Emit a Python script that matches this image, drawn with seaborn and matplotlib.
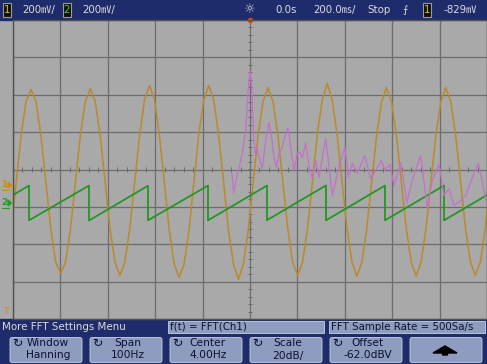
import numpy as np
import pandas as pd
import matplotlib
matplotlib.use("Agg")
import matplotlib.pyplot as plt
import seaborn as sns
from matplotlib.patches import Rectangle, FancyBboxPatch, FancyArrow, Polygon

# ---------------- data read from the screen ----------------
# Channel 1 (sine), volts, sampled every 1/12 of its 250 ms period
CH1_T0 = -1.00733          # s, time of first sample
CH1_DT = 0.0208333         # s, sample interval
ch1_volts = [
    -0.23, 0.02, 0.27, 0.45,
    0.514, 0.45, 0.27, 0.02, -0.23, -0.41, -0.470, -0.41, -0.23, 0.02, 0.27, 0.45,
    0.519, 0.45, 0.27, 0.02, -0.23, -0.41, -0.481, -0.41, -0.23, 0.02, 0.27, 0.46,
    0.535, 0.46, 0.27, 0.02, -0.24, -0.42, -0.492, -0.42, -0.24, 0.02, 0.28, 0.46,
    0.535, 0.46, 0.27, 0.02, -0.24, -0.42, -0.502, -0.42, -0.24, 0.02, 0.27, 0.45,
    0.524, 0.45, 0.27, 0.02, -0.23, -0.41, -0.480, -0.41, -0.23, 0.02, 0.28, 0.46,
    0.546, 0.46, 0.27, 0.02, -0.23, -0.41, -0.485, -0.41, -0.23, 0.02, 0.27, 0.45,
    0.524, 0.45, 0.27, 0.02, -0.23, -0.41, -0.485, -0.41, -0.23, 0.02, 0.27, 0.45,
    0.524, 0.45, 0.27, 0.02, -0.23, -0.41, -0.480, -0.41, -0.23, 0.02, 0.27, 0.45,
]
# Channel 2 (sawtooth): times of the falling edges and levels
ch2_drop_s = [-1.181, -0.9325, -0.6793, -0.4304, -0.1772, 0.0717, 0.3207, 0.5696, 0.8186, 1.068]
ch2_top_v = [0.095, 0.096, 0.096, 0.095, 0.096, 0.096, 0.097, 0.096, 0.096, 0.096]
ch2_bottom_v = [-0.090, -0.090, -0.091, -0.090, -0.090, -0.089, -0.090, -0.090, -0.090, -0.090]
# FFT of channel 1: frequency (Hz) and magnitude (dBV)
fft_hz = [0.20, 0.56, 1.05, 1.47, 1.68, 2.38, 3.09, 3.64, 4.00, 4.36, 4.70, 5.05, 5.41, 5.90,
          6.59, 7.31, 8.01, 8.58, 9.06, 9.55, 10.12, 10.81, 11.32, 12.02, 12.59, 13.28, 13.98,
          14.49, 15.03, 15.75, 16.60, 17.14, 17.86, 18.56, 19.97, 21.36, 22.08, 22.92, 24.04,
          24.74, 25.58, 26.64, 28.20, 29.46, 30.52, 31.70, 32.48, 33.47, 34.38, 35.79, 37.12,
          38.18, 40.01, 41.41, 42.46, 43.87, 44.93, 45.98, 47.04, 48.52, 49.57, 51.05, 52.17,
          52.95, 53.79]
fft_dbv = [-64.1, -74.3, -67.9, -62.5, -60.9, -53.4, -41.1, -18.1, -9.1, -18.1, -41.1, -53.4,
           -50.2, -55.6, -61.5, -46.5, -36.9, -44.9, -55.6, -60.9, -53.4, -50.2, -44.9, -39.5,
           -50.2, -62.5, -53.4, -52.9, -55.6, -48.1, -62.5, -66.3, -57.2, -66.3, -45.4, -75.9,
           -67.9, -58.8, -50.2, -66.3, -58.8, -64.1, -54.5, -66.8, -62.5, -57.2, -62.5, -59.3,
           -70.6, -58.3, -79.6, -67.9, -54.5, -82.3, -67.9, -59.3, -75.9, -72.2, -81.3, -78.6,
           -75.9, -65.2, -58.8, -67.9, -78.6]

# scope settings (shown on screen)
CH1_V_DIV, CH2_V_DIV = 0.2, 0.2
CH1_POS, CH2_POS = -0.43, -0.91          # divisions
T_DIV = 0.2                               # s / div
FFT_CENTER, FFT_SPAN = 4.0, 100.0         # Hz
FFT_SCALE, FFT_OFFSET = 20.0, -62.0       # dB/div, dBV

# ---------------- build tables ----------------
t1 = CH1_T0 + CH1_DT * np.arange(len(ch1_volts))
df1 = pd.DataFrame({"t": t1, "div": np.array(ch1_volts) / CH1_V_DIV + CH1_POS})

t2, v2 = [], []
for ts, top, bot in zip(ch2_drop_s, ch2_top_v, ch2_bottom_v):
    t2 += [ts, ts]
    v2 += [top, bot]
df2 = pd.DataFrame({"t": t2, "div": np.array(v2) / CH2_V_DIV + CH2_POS})

df3 = pd.DataFrame({
    "t": (np.array(fft_hz) - FFT_CENTER) / FFT_SPAN * 10 * T_DIV,
    "div": (np.array(fft_dbv) - FFT_OFFSET) / FFT_SCALE,
})

# ---------------- figure ----------------
sns.set_style("dark")
plt.rcParams["font.family"] = ["DejaVu Sans", "Noto Sans CJK JP"]

W, H = 487, 364
fig = plt.figure(figsize=(W / 100, H / 100), dpi=100)
bg = fig.add_axes([0, 0, 1, 1])
bg.set_xlim(0, W)
bg.set_ylim(H, 0)
bg.axis("off")

GRAY = "#a9a9a9"
NAVY = "#1e2c6c"
LIGHT = "#dcdcdc"
BTN = "#8e9cbf"
DARK = "#0c1030"

bg.add_patch(Rectangle((0, 0), W, H, color=GRAY, zorder=0))
bg.add_patch(Rectangle((0, 0), W, 19.5, color=NAVY, zorder=1))
bg.add_patch(Rectangle((0, 319), W, 45, color=NAVY, zorder=1))

fs = 7.4
# header
def chbox(x, label, col):
    bg.add_patch(Rectangle((x, 2.5), 8, 14, facecolor="#101010", edgecolor="#9a9a9a", lw=0.8, zorder=2))
    bg.text(x + 4, 10, label, color=col, fontsize=fs, ha="center", va="center", zorder=3)

chbox(3, "1", "#e0c020")
bg.text(22, 10, "200㎷/", color=LIGHT, fontsize=fs, va="center", zorder=3)
chbox(63, "2", "#40d040")
bg.text(82, 10, "200㎷/", color=LIGHT, fontsize=fs, va="center", zorder=3)
bg.text(250, 10, "☼", color=LIGHT, fontsize=fs + 2, ha="center", va="center", zorder=3)
bg.text(275, 10, "0.0s", color=LIGHT, fontsize=fs, va="center", zorder=3)
bg.text(313, 10, "200.0㎳/", color=LIGHT, fontsize=fs, va="center", zorder=3)
bg.text(367, 10, "Stop", color=LIGHT, fontsize=fs, va="center", zorder=3)
bg.text(405, 10, "⨍", color=LIGHT, fontsize=fs, ha="center", va="center", zorder=3)
chbox(423, "1", "#e0c020")
bg.text(444, 10, "-829㎷", color=LIGHT, fontsize=fs, va="center", zorder=3)

# menu
bg.text(2, 326.5, "More FFT Settings Menu", color=LIGHT, fontsize=fs, va="center", zorder=3)
for x0, x1, txt in [(168, 324, "f(t) = FFT(Ch1)"), (329, 485, "FFT Sample Rate = 500Sa/s")]:
    bg.add_patch(Rectangle((x0, 320.5), x1 - x0, 12, facecolor=BTN, edgecolor="#c8d0e0", lw=0.6, zorder=2))
    bg.text(x0 + 2, 326.8, txt, color=DARK, fontsize=fs, va="center", zorder=3)

buttons = [("Window", "Hanning"), ("Span", "100Hz"), ("Center", "4.00Hz"),
           ("Scale", "20dB/"), ("Offset", "-62.0dBV"), None]
for i, b in enumerate(buttons):
    x0 = 10 + i * 80
    bg.add_patch(FancyBboxPatch((x0, 337.5), 72, 25, boxstyle="round,pad=0,rounding_size=2",
                                facecolor=BTN, edgecolor="#c8d0e0", lw=0.6, zorder=2))
    if b is None:
        bg.add_patch(FancyArrow(x0 + 35, 355, 0, -9, width=5, head_width=24, head_length=7,
                                length_includes_head=True, color="#000000", zorder=3))
        continue
    bg.text(x0 + 7, 344, "↻", color=DARK, fontsize=fs + 1.5, ha="center", va="center", zorder=3)
    bg.text(x0 + 38, 343.5, b[0], color=DARK, fontsize=fs + 0.3, ha="center", va="center", zorder=3)
    bg.text(x0 + 38, 355.5, b[1], color=DARK, fontsize=fs + 0.3, ha="center", va="center", zorder=3)

# left markers
def marker(y, label, col):
    bg.text(4.5, y - 0.5, label, color=col, fontsize=6.5, ha="center", va="center", zorder=3,
            fontweight="bold")
    bg.add_patch(Polygon([[8, y - 3], [11.5, y], [8, y + 3]], color=col, zorder=3))
    bg.plot([1.5, 9], [y + 4.5, y + 4.5], color=col, lw=0.8, zorder=3)

marker(185, "1", "#d08a10")
marker(203, "2", "#20a020")
bg.text(6, 311, "T", color="#d08a10", fontsize=6.5, ha="center", va="center", zorder=3)

# ---------------- scope graticule ----------------
ax = fig.add_axes([13 / W, 45 / H, 474 / W, 299 / H])
ax.set_facecolor(GRAY)
ax.set_xlim(-1.0, 1.0)
ax.set_ylim(-4, 4)
ax.set_xticks(np.arange(-1.0, 1.01, 0.2))
ax.set_yticks(np.arange(-4, 5, 1))
ax.tick_params(length=0, labelbottom=False, labelleft=False)
ax.grid(True, color="#6c6c6c", lw=0.9)
for s in ax.spines.values():
    s.set_visible(True)
    s.set_color("#505050")
    s.set_linewidth(1.0)
ax.vlines(np.arange(-1.0, 1.001, 0.04), -0.07, 0.07, color="#6c6c6c", lw=0.7)
ax.hlines(np.arange(-4, 4.01, 0.2), -0.008, 0.008, color="#6c6c6c", lw=0.7)

sns.lineplot(data=df1, x="t", y="div", ax=ax, color="#b98a2e", lw=1.1, sort=False, estimator=None)
sns.lineplot(data=df2, x="t", y="div", ax=ax, color="#1f961f", lw=1.25, sort=False, estimator=None)
sns.lineplot(data=df3, x="t", y="div", ax=ax, color="#c66fcc", lw=0.9, sort=False, estimator=None)
ax.set_xlabel("")
ax.set_ylabel("")
ax.plot([0], [4], marker="o", ms=3, color="#d05010", clip_on=False)

fig.savefig("out.png", dpi=100)
